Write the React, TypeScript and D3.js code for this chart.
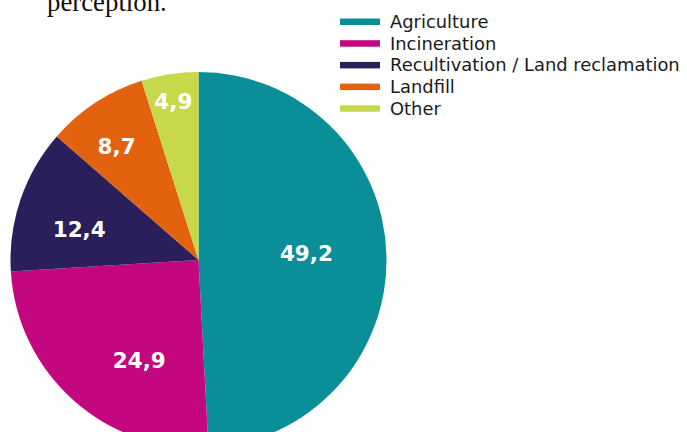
import React from "react";
import * as d3 from "d3";

const categories = ["Agriculture", "Incineration", "Recultivation / Land reclamation", "Landfill", "Other"];
const values = [49.2, 24.9, 12.4, 8.7, 4.9];
const valueLabels = ["49,2", "24,9", "12,4", "8,7", "4,9"];
const colors = ["#0a8e97", "#c2077f", "#2a1f5b", "#e2620f", "#c8d84b"];
// label placement: fraction along slice angle, fraction of radius
const labelAngleFrac = [0.49, 0.375, 0.4, 0.42, 0.49];
const labelRadiusFrac = [0.575, 0.62, 0.655, 0.745, 0.855];

const W = 687;
const H = 432;
const cx = 198.5;
const cy = 260;
const R = 188;

export default function App() {
  const pie = d3.pie<number>().sort(null).value((d) => d);
  const arcs = pie(values);
  const arcGen = d3.arc<d3.PieArcDatum<number>>().innerRadius(0).outerRadius(R);

  const legendY = d3.scaleLinear().domain([0, 1]).range([21.5, 43.2]);

  return (
    <svg
      width={W}
      height={H}
      style={{ position: "fixed", left: 0, top: 0, background: "#fff" }}
    >
      <rect x={0} y={0} width={W} height={H} fill="#fff" />
      <text
        x={47}
        y={11}
        fontFamily="'Liberation Serif', 'Times New Roman', serif"
        fontSize={26.8}
        fill="#111"
      >
        perception.
      </text>
      <g transform={`translate(${cx},${cy})`}>
        {arcs.map((a, i) => (
          <path key={i} d={arcGen(a) || ""} fill={colors[i]} />
        ))}
        {arcs.map((a, i) => {
          const ang = a.startAngle + (a.endAngle - a.startAngle) * labelAngleFrac[i];
          const r = R * labelRadiusFrac[i];
          const x = Math.sin(ang) * r;
          const y = -Math.cos(ang) * r;
          return (
            <text
              key={"l" + i}
              x={x}
              y={y}
              textAnchor="middle"
              dominantBaseline="central"
              fontFamily="'DejaVu Sans', Verdana, sans-serif"
              fontWeight="bold"
              fontSize={21.5}
              fill="#fff"
            >
              {valueLabels[i]}
            </text>
          );
        })}
      </g>
      <g>
        {categories.map((c, i) => (
          <g key={c} transform={`translate(340,${legendY(i)})`}>
            <rect x={0} y={-3} width={40} height={6.5} fill={colors[i]} />
            <text
              x={50}
              y={0}
              dominantBaseline="central"
              fontFamily="'DejaVu Sans', Verdana, sans-serif"
              fontSize={17.9}
              fill="#1a1a1a"
            >
              {c}
            </text>
          </g>
        ))}
      </g>
    </svg>
  );
}
